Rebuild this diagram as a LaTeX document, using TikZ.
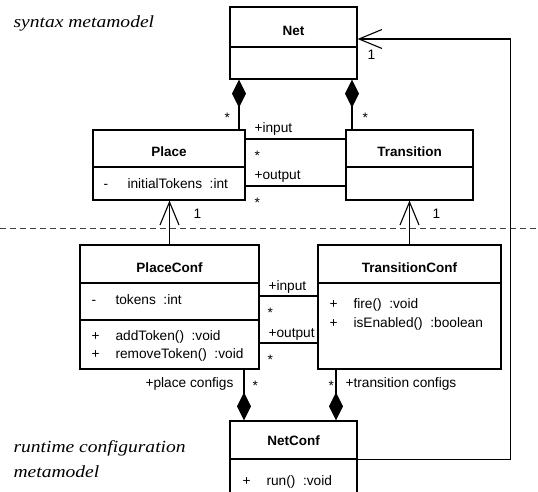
\documentclass[tikz,border=0pt]{standalone}
\usepackage{fontspec}
\setmainfont{Liberation Sans}
\newfontfamily\notefont[FakeStretch=1.15]{Liberation Serif}
\usetikzlibrary{arrows.meta}

% visibility mark followed by the feature text
\newcommand{\feat}[2]{\makebox[24pt][l]{#1}#2}

\begin{document}
\begin{tikzpicture}[x=1pt,y=-1pt,
  box/.style={draw,line width=1.1pt,inner sep=0pt},
  cname/.style={anchor=base,font=\fontsize{13.5}{16}\selectfont\bfseries},
  row/.style={anchor=base west,font=\fontsize{13.7}{16}\selectfont},
  role/.style={anchor=base west,font=\fontsize{13.7}{16}\selectfont},
  comp/.style={line width=1.1pt,-{Diamond[length=28pt,width=14pt]}},
  nav/.style={line width=1.1pt,-{Straight Barb[length=23pt,width=19pt]}},
  assoc/.style={line width=1.1pt},
  levelsep/.style={line width=1pt,black!75,dash pattern=on 6pt off 4pt},
  note/.style={anchor=base west,align=left,font=\notefont\itshape\fontsize{17}{25}\selectfont}]
\clip (0,0) rectangle (538,491);

% syntax metamodel
\node[box,minimum width=127,minimum height=40] (netT) at (293.5,27) {};
\node[box,minimum width=127,minimum height=32] (netA) at (293.5,63) {};
\node[cname] (netN) at (293.5,35) {Net};

\node[box,minimum width=152,minimum height=37] (placeT) at (169,148.5) {};
\node[box,minimum width=152,minimum height=33] (placeA) at (169,183.5) {};
\node[cname] (placeN) at (169,156) {Place};
\node[row] (placeR1) at (100,188) {\feat{-}{initialTokens\ \ :int}};

\node[box,minimum width=127,minimum height=37] (transT) at (409.5,148.5) {};
\node[box,minimum width=127,minimum height=33] (transA) at (409.5,183.5) {};
\node[cname] (transN) at (409.5,156) {Transition};

\draw[comp] (placeT.north -| 239,0) -- (netA.south -| 239,0);
\draw[comp] (transT.north -| 352,0) -- (netA.south -| 352,0);
\node[role] (m1) at (221,122) {*};
\node[role] (m2) at (359,122) {*};

\draw[assoc] (placeT.east |- 0,139) -- (transT.west |- 0,139);
\draw[assoc] (placeA.east |- 0,186) -- (transA.west |- 0,186);
\node[role] (in1) at (251,132) {+input};
\node[role] (m3) at (251,160) {*};
\node[role] (out1) at (251,179) {+output};
\node[role] (m4) at (251,207) {*};

\draw[levelsep] (0,228) -- (538,228);

% runtime configuration metamodel
\node[box,minimum width=179,minimum height=38] (pconfT) at (169.5,264) {};
\node[box,minimum width=179,minimum height=37] (pconfA) at (169.5,301.5) {};
\node[box,minimum width=179,minimum height=49] (pconfO) at (169.5,344.5) {};
\node[cname] (pconfN) at (169.5,272) {PlaceConf};
\node[row] (pconfR1) at (88,304) {\feat{-}{tokens\ \ :int}};
\node[row] (pconfR2) at (88,340) {\feat{+}{addToken()\ \ :void}};
\node[row] (pconfR3) at (88,358) {\feat{+}{removeToken()\ \ :void}};

\node[box,minimum width=183,minimum height=38] (tconfT) at (409.5,264) {};
\node[box,minimum width=183,minimum height=86] (tconfO) at (409.5,326) {};
\node[cname] (tconfN) at (409.5,272) {TransitionConf};
\node[row] (tconfR1) at (326,308) {\feat{+}{fire()\ \ :void}};
\node[row] (tconfR2) at (326,327) {\feat{+}{isEnabled()\ \ :boolean}};

\node[box,minimum width=127,minimum height=38] (netconfT) at (293.5,440) {};
\node[box,minimum width=127,minimum height=41] (netconfO) at (293.5,479.5) {};
\node[cname] (netconfN) at (293.5,445) {NetConf};
\node[row] (netconfR1) at (239,485) {\feat{+}{run()\ \ :void}};

\draw[nav] (pconfT.north) -- (pconfT.north |- placeA.south);
\draw[nav] (tconfT.north) -- (tconfT.north |- transA.south);
\node[role] (one1) at (190,218) {1};
\node[role] (one2) at (429,218) {1};

\draw[assoc] (pconfA.east |- 0,296) -- (tconfO.west |- 0,296);
\draw[assoc] (pconfO.east |- 0,343) -- (tconfO.west |- 0,343);
\node[role] (in2) at (265,290) {+input};
\node[role] (m5) at (264,317) {*};
\node[role] (out2) at (265,337) {+output};
\node[role] (m6) at (264,364) {*};

\draw[comp] (pconfO.south -| 244,0) -- (netconfT.north -| 244,0);
\draw[comp] (tconfO.south -| 336,0) -- (netconfT.north -| 336,0);
\node[role,anchor=base east] (pcs) at (237,387) {+place configs};
\node[role] (m7) at (249,390) {*};
\node[role] (m8) at (325,390) {*};
\node[role] (tcs) at (342,387) {+transition configs};

\draw[nav] (netconfT.south east) -- ++(153,0) |- (netT.east |- 0,39);
\node[role] (one3) at (364,59) {1};

\node[note] (synNote) at (10,27) {syntax metamodel};
\node[note] (rtNote) at (10,477) {runtime configuration\\metamodel};
\end{tikzpicture}
\end{document}
